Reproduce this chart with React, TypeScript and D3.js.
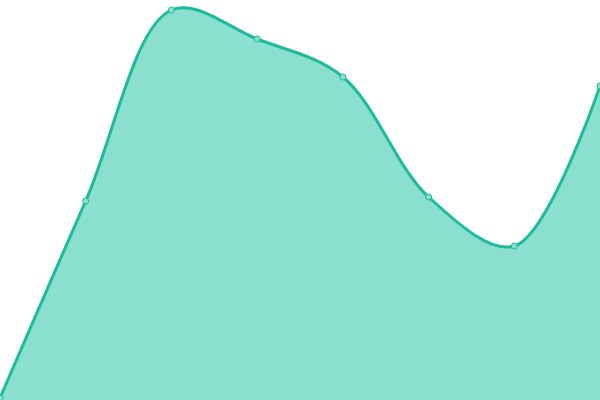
import * as d3 from "d3";

const categories = ["A", "B", "C", "D", "E", "F", "G", "H"];
const values = [2, 199, 390, 361, 323, 203, 154, 314];

const width = 600;
const height = 400;

export default function App() {
  const x = d3
    .scalePoint<string>()
    .domain(categories)
    .range([0, width]);

  const y = d3.scaleLinear().domain([0, 400]).range([height, 0]);

  const data = categories.map((c, i) => ({ c, v: values[i] }));

  const area = d3
    .area<{ c: string; v: number }>()
    .x((d) => x(d.c)!)
    .y0(height)
    .y1((d) => y(d.v))
    .curve(d3.curveCatmullRom);

  const line = d3
    .line<{ c: string; v: number }>()
    .x((d) => x(d.c)!)
    .y((d) => y(d.v))
    .curve(d3.curveCatmullRom);

  return (
    <svg
      width={width}
      height={height}
      style={{ position: "absolute", left: 0, top: 0, display: "block" }}
    >
      <path d={area(data)!} fill="#8adfcf" />
      <path d={line(data)!} fill="none" stroke="#1abc9c" strokeWidth={3} />
      {data.map((d) => (
        <circle
          key={d.c}
          cx={x(d.c)}
          cy={y(d.v)}
          r={3}
          fill="#8adfcf"
          stroke="#1abc9c"
          strokeWidth={1}
        />
      ))}
    </svg>
  );
}
